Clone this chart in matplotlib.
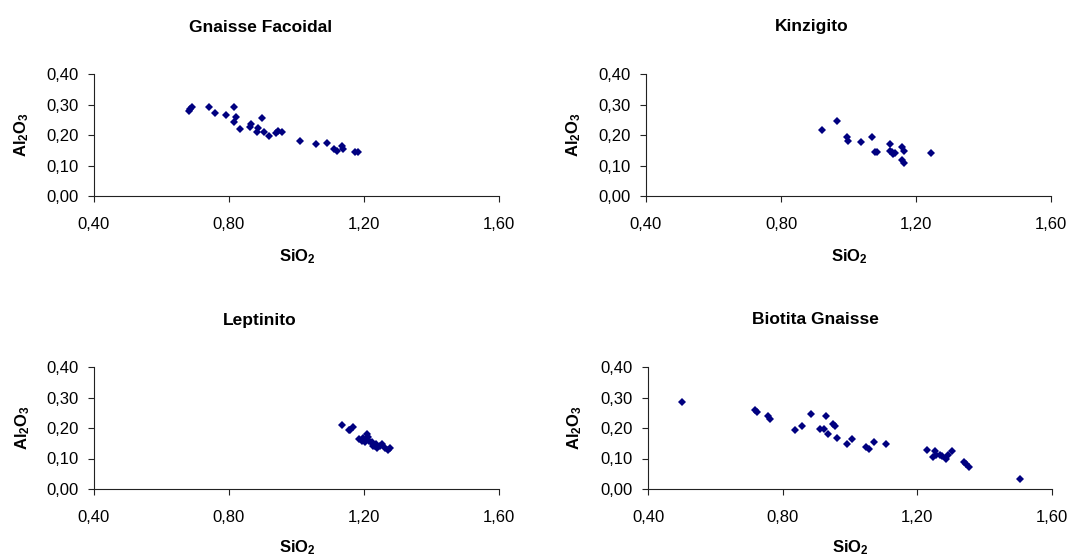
import matplotlib
matplotlib.use('Agg')
import matplotlib.pyplot as plt
from matplotlib.ticker import FuncFormatter

plt.rcParams['font.family'] = ['Liberation Sans', 'DejaVu Sans']
plt.rcParams['mathtext.fontset'] = 'custom'
plt.rcParams['mathtext.rm'] = 'Liberation Sans'
plt.rcParams['mathtext.bf'] = 'Liberation Sans:bold'

titles = ['Gnaisse Facoidal', 'Kinzigito', 'Leptinito', 'Biotita Gnaisse']

gf_sio2 = [0.681, 0.684, 0.689, 0.741, 0.758, 0.791, 0.814, 0.814, 0.821, 0.832,
           0.863, 0.864, 0.883, 0.886, 0.897, 0.904, 0.920, 0.939, 0.946, 0.957,
           1.009, 1.058, 1.090, 1.111, 1.121, 1.135, 1.139, 1.172, 1.183]
gf_al2o3 = [0.279, 0.284, 0.291, 0.291, 0.271, 0.264, 0.293, 0.242, 0.260, 0.220,
            0.227, 0.236, 0.209, 0.224, 0.257, 0.209, 0.198, 0.205, 0.213, 0.209,
            0.179, 0.169, 0.173, 0.154, 0.149, 0.165, 0.155, 0.145, 0.145]

kz_sio2 = [0.920, 0.966, 0.995, 0.998, 1.038, 1.069, 1.078, 1.085, 1.124, 1.123,
           1.128, 1.133, 1.139, 1.159, 1.163, 1.158, 1.164, 1.244]
kz_al2o3 = [0.216, 0.246, 0.192, 0.181, 0.176, 0.195, 0.145, 0.143, 0.169, 0.149,
            0.143, 0.138, 0.142, 0.162, 0.148, 0.118, 0.109, 0.142]

lp_sio2 = [1.136, 1.155, 1.160, 1.168, 1.185, 1.196, 1.202, 1.208, 1.212, 1.216,
           1.223, 1.228, 1.234, 1.240, 1.246, 1.254, 1.261, 1.270, 1.276, 1.193,
           1.206, 1.226, 1.236]
lp_al2o3 = [0.209, 0.195, 0.192, 0.203, 0.165, 0.168, 0.155, 0.179, 0.170, 0.159,
            0.155, 0.148, 0.140, 0.133, 0.140, 0.148, 0.135, 0.129, 0.135, 0.157,
            0.162, 0.142, 0.149]

bg_sio2 = [0.502, 0.718, 0.724, 0.757, 0.761, 0.837, 0.857, 0.883, 0.912, 0.924,
           0.930, 0.934, 0.950, 0.955, 0.961, 0.990, 1.007, 1.047, 1.055, 1.072,
           1.106, 1.228, 1.248, 1.252, 1.256, 1.266, 1.274, 1.284, 1.290, 1.304,
           1.339, 1.345, 1.352, 1.504]
bg_al2o3 = [0.286, 0.258, 0.251, 0.240, 0.230, 0.193, 0.205, 0.245, 0.198, 0.198,
            0.238, 0.179, 0.212, 0.208, 0.168, 0.149, 0.164, 0.138, 0.132, 0.153,
            0.149, 0.127, 0.104, 0.124, 0.113, 0.110, 0.107, 0.099, 0.110, 0.124,
            0.088, 0.083, 0.072, 0.033]

series = [(gf_sio2, gf_al2o3), (kz_sio2, kz_al2o3),
          (lp_sio2, lp_al2o3), (bg_sio2, bg_al2o3)]

x_ticks = [0.4, 0.8, 1.2, 1.6]
y_ticks = [0.0, 0.1, 0.2, 0.3, 0.4]

W, H = 1072, 557
fig = plt.figure(figsize=(W / 100, H / 100), dpi=100)

# pixel boxes: left, right, top, bottom of each plot area
boxes = [(94, 499, 74, 196), (646, 1051, 74, 196),
         (94, 499, 367, 489), (648, 1052, 367, 489)]
title_pos = [(261, 27), (812, 27), (260, 320), (815, 320)]
ylab_pos = [(22, 135), (574, 135), (23, 428), (575, 428)]
xlab_pos = [(297, 257), (849, 257), (297, 548), (850, 548)]

comma = FuncFormatter(lambda v, p: f'{v:.2f}'.replace('.', ','))

for i, (sx, sy) in enumerate(series):
    l, r, t, b = boxes[i]
    ax = fig.add_axes([l / W, 1 - b / H, (r - l) / W, (b - t) / H])
    ax.plot(sx, sy, 'D', color='#000080', ms=3.8, mew=0, clip_on=False)
    ax.set_xlim(0.4, 1.6)
    ax.set_ylim(0, 0.4)
    ax.set_xticks(x_ticks)
    ax.set_yticks(y_ticks)
    ax.xaxis.set_major_formatter(comma)
    ax.yaxis.set_major_formatter(comma)
    ax.spines['top'].set_visible(False)
    ax.spines['right'].set_visible(False)
    for s in ('left', 'bottom'):
        ax.spines[s].set_linewidth(0.8)
        ax.spines[s].set_color('#222222')
    ax.tick_params(axis='x', length=4, width=0.8, pad=11, labelsize=12, color='#222222')
    ax.tick_params(axis='y', length=4, width=0.8, pad=7, labelsize=12, color='#222222')

    tx, ty = title_pos[i]
    fig.text(tx / W, 1 - ty / H, titles[i], ha='center', va='center',
             fontsize=12.5, fontweight='bold')
    yx, yy = ylab_pos[i]
    fig.text(yx / W, 1 - yy / H, r'$\mathbf{Al_2O_3}$', ha='center', va='center',
             rotation=90, fontsize=12)
    xx, xy = xlab_pos[i]
    fig.text(xx / W, 1 - xy / H, r'$\mathbf{SiO_2}$', ha='center', va='center',
             fontsize=12)

fig.savefig('out.png', dpi=100)
